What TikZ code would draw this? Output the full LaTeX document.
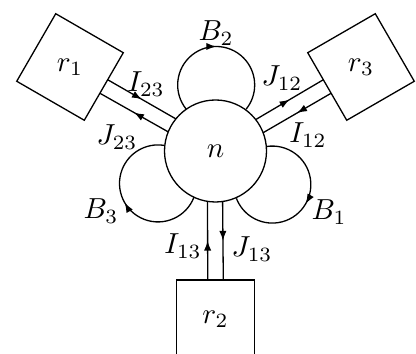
\documentclass[tikz,border=0pt]{standalone}
\usetikzlibrary{arrows.meta,decorations.markings,calc}
\begin{document}
\begin{tikzpicture}[x=0.345pt,y=0.345pt,
  line width=0.45pt,
  hub/.style={circle,draw,minimum size=35.19pt,inner sep=0pt,outer sep=0pt},
  res/.style={rectangle,draw,minimum size=26.91pt,inner sep=0pt,outer sep=0pt},
  midarrow/.style={decoration={markings,mark=at position 0.5 with {\arrow{Latex[length=3.4pt,width=2.5pt]}}},postaction={decorate}},
]
\useasboundingbox (0,0) rectangle (416,354);
\clip (0,0) rectangle (416,354);
\node[hub] (n) at (215.5,203) {$n$};
\node[res,rotate=-30] (r1) at ($(n.center)+(150:168)$) {};
\node[res,rotate=30] (r3) at ($(n.center)+(30:168)$) {};
\node[res] (r2) at ($(n.center)+(270:168)$) {};
\node (t1) at (r1.center) {$r_1$};
\node (t3) at (r3.center) {$r_3$};
\node (t2) at (r2.center) {$r_2$};
% connectors r1
\draw[midarrow] ($(r1.east)!2.69pt!(r1.north east)$) -- (n.141.2);
\draw[midarrow] (n.158.8) -- ($(r1.east)!2.69pt!(r1.south east)$);
% connectors r3
\draw[midarrow] (n.38.8) -- ($(r3.west)!2.69pt!(r3.north west)$);
\draw[midarrow] ($(r3.west)!2.69pt!(r3.south west)$) -- (n.21.2);
% connectors r2
\draw[midarrow] ($(r2.north)!2.69pt!(r2.north west)$) -- (n.261.2);
\draw[midarrow] (n.278.8) -- ($(r2.north)!2.69pt!(r2.north east)$);
% loops
\draw[midarrow] (n.125.9) arc[start angle=219, end angle=-39, radius=38.5];
\draw[midarrow] (n.245.9) arc[start angle=339, end angle=81, radius=38.5];
\draw[midarrow] (n.5.9) arc[start angle=99, end angle=-159, radius=38.5];
% labels
\node (lB2) at (216,321) {$B_2$};
\node (lB3) at (101,143) {$B_3$};
\node (lB1) at (329,142) {$B_1$};
\node (lI23) at (146,270) {$I_{23}$};
\node (lJ23) at (117,217) {$J_{23}$};
\node (lJ12) at (282,276) {$J_{12}$};
\node (lI12) at (308,219) {$I_{12}$};
\node (lI13) at (183,108) {$I_{13}$};
\node (lJ13) at (252,105) {$J_{13}$};
\end{tikzpicture}
\end{document}
